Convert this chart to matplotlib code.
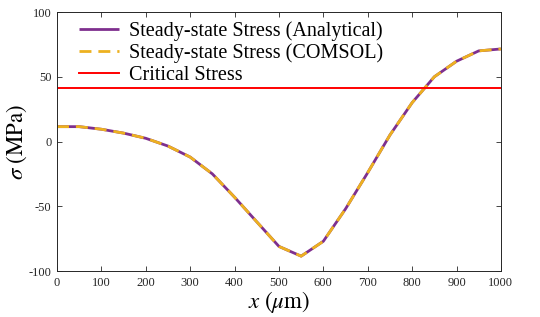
import matplotlib
matplotlib.use("Agg")
import matplotlib.pyplot as plt

x_um = [0, 50, 100, 150, 200, 250, 300, 350, 400, 450, 500,
        550, 600, 650, 700, 750, 800, 850, 900, 950, 1000]
stress_analytical = [11.5, 11.5, 9.5, 6.5, 2.5, -3.5, -12, -25, -43, -62, -81,
                     -88.5, -77, -52, -24, 5, 30, 50, 62, 70, 71.5]
stress_comsol = [11.5, 11.5, 9.5, 6.5, 2.5, -3.5, -12, -25, -43, -62, -81,
                 -88.5, -77, -52, -24, 5, 30, 50, 62, 70, 71.5]
critical_stress = 41.5
x_ticks = [0, 100, 200, 300, 400, 500, 600, 700, 800, 900, 1000]
y_ticks = [-100, -50, 0, 50, 100]

plt.rcParams['font.family'] = ['Liberation Serif', 'DejaVu Serif']
plt.rcParams['mathtext.fontset'] = 'stix'
plt.rcParams['axes.unicode_minus'] = False

fig = plt.figure(figsize=(5.4, 3.17), dpi=100)
ax = fig.add_axes([0.1056, 0.145, 0.822, 0.817])

ax.plot(x_um, stress_analytical, color='#7E2F8E', lw=2.0, solid_capstyle='butt',
        label='Steady-state Stress (Analytical)')
ax.plot(x_um, stress_comsol, color='#EDB120', lw=2.0, dashes=(4.3, 2.5),
        label='Steady-state Stress (COMSOL)')
ax.plot([x_um[0], x_um[-1]], [critical_stress, critical_stress], color='#FF0000',
        lw=1.4, label='Critical Stress')

ax.set_xlim(0, 1000)
ax.set_ylim(-100, 100)
ax.set_xticks(x_ticks)
ax.set_yticks(y_ticks)
ax.tick_params(direction='in', top=True, right=True, length=3.5, width=0.6,
               labelsize=9, colors='#262626', pad=4)
for s in ax.spines.values():
    s.set_linewidth(0.7)
    s.set_color('#262626')

ax.set_xlabel(r'$x\ (\mu\mathrm{m})$', fontsize=16.5, labelpad=0)
ax.set_ylabel(r'$\sigma\ (\mathrm{MPa})$', fontsize=16.5, labelpad=0)

leg = ax.legend(loc='upper left', frameon=False, fontsize=14.5,
                handlelength=2.0, handletextpad=0.5, labelspacing=0.12,
                borderaxespad=0.0, borderpad=0.2, bbox_to_anchor=(0.04, 0.98))

fig.savefig('out.png', dpi=100)
